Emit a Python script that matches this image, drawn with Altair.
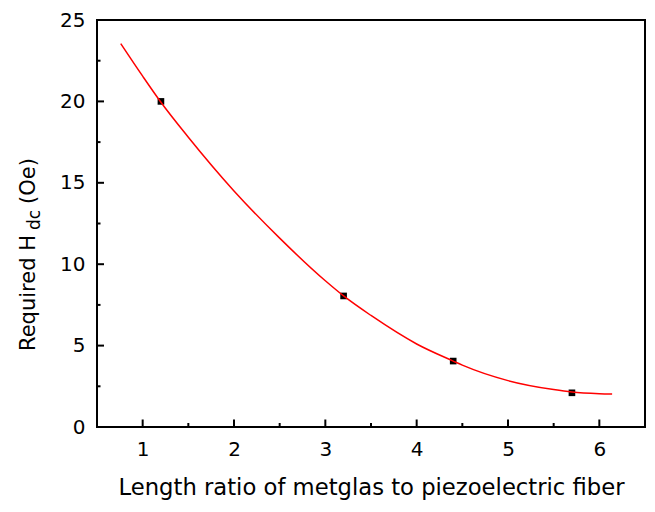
import altair as alt
import pandas as pd

# measured data points
point_x = [1.2, 3.2, 4.4, 5.7]
point_y = [20.0, 8.05, 4.05, 2.1]

# fitted curve
curve_x = [0.76, 1.0, 1.2, 1.5, 2.0, 2.5, 3.0, 3.2, 3.5, 4.0, 4.4, 4.5, 5.0, 5.5, 5.7, 6.0, 6.14]
curve_y = [23.55, 21.55, 19.95, 17.8, 14.5, 11.6, 8.98, 8.05, 6.85, 5.1, 4.05, 3.8, 2.85, 2.3, 2.15, 2.05, 2.03]

# tick positions
x_major = [1, 2, 3, 4, 5, 6]
x_minor = [1.5, 2.5, 3.5, 4.5, 5.5]
y_major = [0, 5, 10, 15, 20]
y_minor = [2.5, 7.5, 12.5, 17.5, 22.5]
y_labels = [0, 5, 10, 15, 20, 25]

x_title = "Length ratio of metglas to piezoelectric fiber"
y_title_main = "Required H"
y_title_sub = "dc"
y_title_unit = "(Oe)"

FONT = "DejaVu Sans"
W, H = 548, 407

xscale = alt.Scale(domain=[0.5, 6.5], nice=False, zero=False)
yscale = alt.Scale(domain=[0, 25], nice=False, zero=False)

xaxis = alt.Axis(values=x_major, format="d", ticks=False, tickSize=0, domain=False, grid=False,
                 labelFont=FONT, labelFontSize=20, labelColor="black", labelPadding=12,
                 labelFlush=False, title=x_title, titleFont=FONT, titleFontSize=22.7,
                 titleFontWeight="normal", titleColor="black", titleBaseline="alphabetic",
                 titleY=67)
yaxis = alt.Axis(values=y_labels, format="d", ticks=False, tickSize=0, domain=False, grid=False,
                 labelFont=FONT, labelFontSize=20, labelColor="black", labelPadding=12,
                 labelFlush=False, title=None)


def X(f):
    return alt.X(f, type="quantitative", scale=xscale, axis=xaxis)


def Y(f):
    return alt.Y(f, type="quantitative", scale=yscale, axis=yaxis)


pts = pd.DataFrame({"x": point_x, "y": point_y})
crv = pd.DataFrame({"x": curve_x, "y": curve_y})

squares = alt.Chart(pts).mark_square(size=44, color="black", opacity=1).encode(x=X("x"), y=Y("y"))
line = alt.Chart(crv).mark_line(color="#ff0000", strokeWidth=1.5, interpolate="monotone").encode(
    x=X("x"), y=Y("y"))

xmaj = alt.Chart(pd.DataFrame({"v": x_major})).mark_rule(color="black", strokeWidth=2).encode(
    x=X("v"), y=alt.value(H), y2=alt.value(H - 7.5))
xmin = alt.Chart(pd.DataFrame({"v": x_minor})).mark_rule(color="black", strokeWidth=2).encode(
    x=X("v"), y=alt.value(H), y2=alt.value(H - 4))
ymaj = alt.Chart(pd.DataFrame({"v": y_major})).mark_rule(color="black", strokeWidth=2).encode(
    y=Y("v"), x=alt.value(0), x2=alt.value(7))
ymin = alt.Chart(pd.DataFrame({"v": y_minor})).mark_rule(color="black", strokeWidth=2).encode(
    y=Y("v"), x=alt.value(0), x2=alt.value(3.5))

t1 = alt.Chart(pd.DataFrame({"t": [y_title_main]})).mark_text(
    angle=270, align="left", baseline="alphabetic", font=FONT, fontSize=21, color="black"
).encode(text="t:N", x=alt.value(-62), y=alt.value(331))
t2 = alt.Chart(pd.DataFrame({"t": [y_title_sub]})).mark_text(
    angle=270, align="left", baseline="alphabetic", font=FONT, fontSize=17, color="black"
).encode(text="t:N", x=alt.value(-57), y=alt.value(210))
t3 = alt.Chart(pd.DataFrame({"t": [y_title_unit]})).mark_text(
    angle=270, align="left", baseline="alphabetic", font=FONT, fontSize=21, color="black"
).encode(text="t:N", x=alt.value(-62), y=alt.value(184))

chart = alt.layer(squares, line, xmaj, xmin, ymaj, ymin, t1, t2, t3).properties(
    width=W, height=H,
    autosize=alt.AutoSizeParams(type="none"),
    padding={"left": 89, "top": 12, "right": 2, "bottom": 76},
    background="white",
).configure_view(stroke="black", strokeWidth=2)

chart.save("out.html", embed_options={"renderer": "svg", "actions": False})
